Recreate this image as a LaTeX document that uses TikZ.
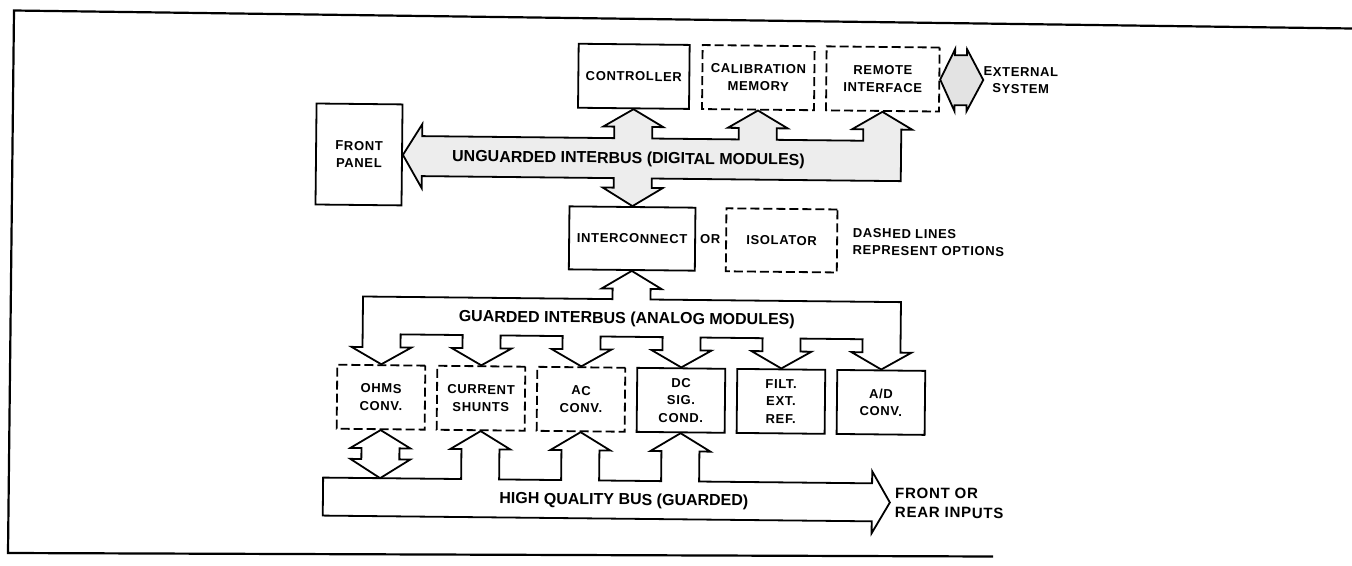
\documentclass[tikz,border=0pt]{standalone}
\usepackage{fontspec}
\setmainfont{Liberation Sans}
\newfontfamily\spacedfont{Liberation Sans}[LetterSpace=5]
\usepackage{tikz}

\begin{document}
\begin{tikzpicture}[x=1pt,y=-1pt]
\tikzstyle{every node}+=[inner sep=0pt]
\tikzstyle{unit}=[draw=black,line width=1.8pt,align=center,font=\spacedfont\bfseries\fontsize{13}{17.5}\selectfont]
\tikzstyle{optunit}=[unit,dash pattern=on 9pt off 4pt]
\tikzstyle{note}=[align=center,font=\spacedfont\bfseries\fontsize{13}{17}\selectfont]
\tikzstyle{buslabel}=[font=\bfseries\fontsize{16}{19}\selectfont]
\tikzstyle{bus}=[draw=black,line width=1.8pt]
\useasboundingbox (0,0) rectangle (1352,565);
\draw [black,line width=2.2pt] (1352,28.5) -- (14,10.5) -- (8,553) -- (993,556.5);
\begin{scope}[rotate around={-0.6:(650,300)},transform shape]
\node [unit,minimum width=86,minimum height=101] (panel) at (357.5,157.5) {FRONT\\PANEL};
\node [unit,minimum width=111,minimum height=64] (ctrl) at (631.5,76.5) {CONTROLLER};
\node [optunit,minimum width=112,minimum height=64] (cal) at (756,76.5) {CALIBRATION\\MEMORY};
\node [optunit,minimum width=113,minimum height=64] (remote) at (880.5,76.5) {REMOTE\\INTERFACE};
\node [note,anchor=west] (ext) at (981,76.5) {EXTERNAL\\SYSTEM};
\node [unit,minimum width=126,minimum height=63] (icon) at (631.5,238.7) {INTERCONNECT};
\node [note] (or) at (709.5,238) {OR};
\node [optunit,minimum width=111,minimum height=63] (iso) at (781,239) {ISOLATOR};
\node [note,anchor=west,align=left] (legend) at (852,239.5) {DASHED LINES\\REPRESENT OPTIONS};
\node [optunit,minimum width=88,minimum height=64] (ohms) at (382,400) {OHMS\\CONV.};
\node [optunit,minimum width=88,minimum height=64] (shunt) at (482,400) {CURRENT\\SHUNTS};
\node [optunit,minimum width=88,minimum height=64] (ac) at (582,400) {AC\\CONV.};
\node [unit,minimum width=88,minimum height=64] (dc) at (682,400) {DC\\SIG.\\COND.};
\node [unit,minimum width=88,minimum height=64] (filt) at (782,400) {FILT.\\EXT.\\REF.};
\node [unit,minimum width=88,minimum height=64] (ad) at (882,400) {A/D\\CONV.};
\node [note,anchor=west,align=left,font=\spacedfont\bfseries\fontsize{15}{19}\selectfont] (inputs) at (897,500) {FRONT OR\\REAR INPUTS};
\coordinate (hqtap) at (382,481);
\coordinate (tip) at (892,500);
% unguarded interbus
\draw [bus,fill=black!7] (panel.east)
  -- (420.5,126.5) -- (420.5,138.5)
  -- (612.5,138.5) -- (612.5,127) -- (601.5,127) -- (ctrl.south) -- (661.5,127) -- (650.5,127) -- (650.5,138.5)
  -- (737,138.5) -- (737,127) -- (726,127) -- (cal.south) -- (786,127) -- (775,127) -- (775,138.5)
  -- (861.5,138.5) -- (861.5,127) -- (850.5,127) -- (remote.south) -- (910.5,127) -- (899.5,127) -- (899.5,178.5)
  -- (650.5,178.5) -- (650.5,188) -- (661.5,188) -- (icon.north) -- (601.5,188) -- (612.5,188) -- (612.5,178.5)
  -- (420.5,178.5) -- (420.5,190.5) -- cycle;
\draw [bus,fill=black!11] (remote.east) -- (952.5,46) -- (952.5,52) -- (964.5,52) -- (964.5,46) -- (ext.west)
  -- (964.5,108) -- (964.5,102) -- (952.5,102) -- (952.5,108) -- cycle;
% guarded interbus
\draw [bus] (363,299.5) -- (612.5,299.5) -- (612.5,289) -- (601.5,289) -- (icon.south) -- (661.5,289) -- (650.5,289) -- (650.5,299.5)
  -- (901,299.5) -- (901,350) -- (912,350) -- (ad.north) -- (852,350) -- (863,350) -- (863,337)
  -- (801,337) -- (801,350) -- (812,350) -- (filt.north) -- (752,350) -- (763,350) -- (763,337)
  -- (701,337) -- (701,350) -- (712,350) -- (dc.north) -- (652,350) -- (663,350) -- (663,337)
  -- (601,337) -- (601,350) -- (612,350) -- (ac.north) -- (552,350) -- (563,350) -- (563,337)
  -- (501,337) -- (501,350) -- (512,350) -- (shunt.north) -- (452,350) -- (463,350) -- (463,337)
  -- (401,337) -- (401,350) -- (412,350) -- (ohms.north) -- (352,350) -- (363,350) -- cycle;
% high quality bus
\draw [bus] (325,481) -- (463,481) -- (463,451) -- (452,451) -- (shunt.south) -- (512,451) -- (501,451) -- (501,481)
  -- (563,481) -- (563,451) -- (552,451) -- (ac.south) -- (612,451) -- (601,451) -- (601,481)
  -- (663,481) -- (663,451) -- (652,451) -- (dc.south) -- (712,451) -- (701,451) -- (701,481)
  -- (874,481) -- (874,469) -- (tip) -- (874,531) -- (874,519) -- (325,519) -- cycle;
\draw [bus] (ohms.south) -- (412,451) -- (401,451) -- (401,462) -- (412,462) -- (hqtap)
  -- (352,462) -- (363,462) -- (363,451) -- (352,451) -- cycle;
\node [buslabel] (ugl) at (627,159.5) {UNGUARDED INTERBUS (DIGITAL MODULES)};
\node [buslabel] (gl) at (627,319.5) {GUARDED INTERBUS (ANALOG MODULES)};
\node [buslabel] (hql) at (626,501) {HIGH QUALITY BUS (GUARDED)};
\end{scope}
\end{tikzpicture}
\end{document}
